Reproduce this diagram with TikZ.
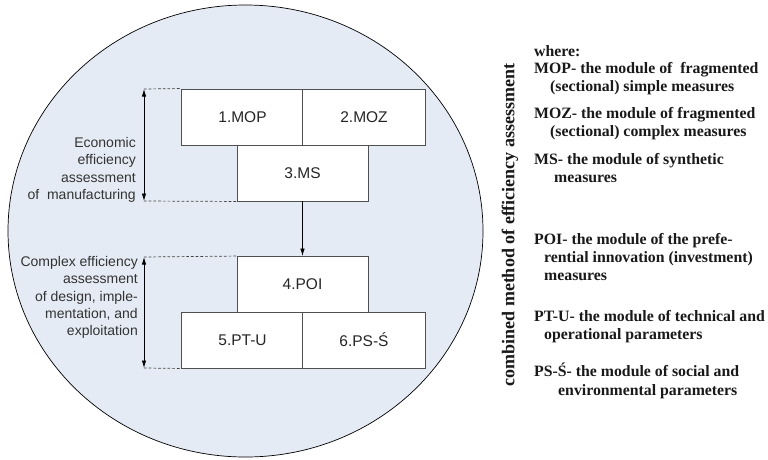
\documentclass[tikz,border=0pt]{standalone}
\usepackage{fontspec}
\setmainfont{Liberation Serif}
\setsansfont{Liberation Sans}
\usetikzlibrary{arrows.meta}
\definecolor{circfill}{HTML}{E5EBF5}
\definecolor{boxline}{HTML}{505050}
\definecolor{labtxt}{HTML}{333333}
\begin{document}
\begin{tikzpicture}[x=1pt,y=-1pt,
  modbox/.style={draw=boxline,line width=0.9pt,fill=white,inner sep=0pt,
    minimum width=123pt,minimum height=56pt,font=\sffamily\fontsize{15.5}{18}\selectfont,text=black!85},
  smallbox/.style={modbox,minimum width=131pt},
  sidelab/.style={align=right,inner sep=0pt,font=\sffamily\fontsize{14}{17.4}\selectfont,text=labtxt},
  legline/.style={anchor=base west,inner sep=0pt,font=\rmfamily\bfseries\fontsize{15.8}{18}\selectfont,text=black!90},
  dimarrow/.style={line width=0.8pt,{Latex[length=7.5pt,width=4.5pt]}-{Latex[length=7.5pt,width=4.5pt]}},
  guide/.style={line width=0.7pt,dash pattern=on 2.7pt off 2pt,draw=black!75},
  flow/.style={line width=0.8pt,-{Latex[length=7.5pt,width=4.5pt]}}]
\useasboundingbox (0,0) rectangle (768,459);
\fill[white] (0,0) rectangle (768,459);
% big circle
\draw[fill=circfill,line width=0.7pt] (245.5,231) ellipse [x radius=237.5pt, y radius=226pt];
% module boxes
\node[modbox] (mop) at (242.5,117) {1.MOP};
\node[modbox] (moz) at (364,117) {2.MOZ};
\node[smallbox] (ms) at (302.5,173) {3.MS};
\node[smallbox] (poi) at (302.5,284.5) {4.POI};
\node[modbox] (ptu) at (242.5,340) {5.PT-U};
\node[modbox] (pss) at (364,340) {6.PS-Ś};
\draw[flow] (ms.south) -- (poi.north);
% dimension guides
\coordinate (a1) at (144,89);
\coordinate (a2) at (144,201);
\coordinate (b1) at (144,257);
\coordinate (b2) at (144,368);
\draw[guide] (a1) -- (mop.north west);
\draw[guide] (a2) -- (ms.south west);
\draw[guide] (b1) -- (poi.north west);
\draw[guide] (b2) -- (ptu.south west);
\draw[dimarrow] (a1) -- (a2);
\draw[dimarrow] (b1) -- (b2);
\node[sidelab,anchor=north east] (econ) at (136,137) {Economic\\efficiency\\assessment\\of\ \ manufacturing};
\node[sidelab,anchor=north east] (cplx) at (138,256) {Complex efficiency\\assessment\\of design, imple-\\mentation, and\\exploitation};
% vertical title
\node[rotate=90,inner sep=0pt,font=\rmfamily\bfseries\fontsize{18}{20}\selectfont,text=black!90] (title) at (510,225) {combined method of efficiency assessment};
% legend
\node[legline] (w) at (534,56) {where:};
\node[legline] (l1) at (534,73) {MOP- the module of\ \ fragmented};
\node[legline] (l2) at (550,91) {(sectional) simple measures};
\node[legline] (l3) at (534,118) {MOZ- the module of fragmented};
\node[legline] (l4) at (550,136) {(sectional) complex measures};
\node[legline] (l5) at (534,164) {MS- the module of synthetic};
\node[legline] (l6) at (554,182) {measures};
\node[legline] (l7) at (534,244) {POI- the module of the prefe-};
\node[legline] (l8) at (544,262) {rential innovation (investment)};
\node[legline] (l9) at (544,280) {measures};
\node[legline] (l10) at (534,321) {PT-U- the module of technical and};
\node[legline] (l11) at (544,339) {operational parameters};
\node[legline] (l12) at (534,376) {PS-Ś- the module of social and};
\node[legline] (l13) at (558,395) {environmental parameters};
\end{tikzpicture}
\end{document}
